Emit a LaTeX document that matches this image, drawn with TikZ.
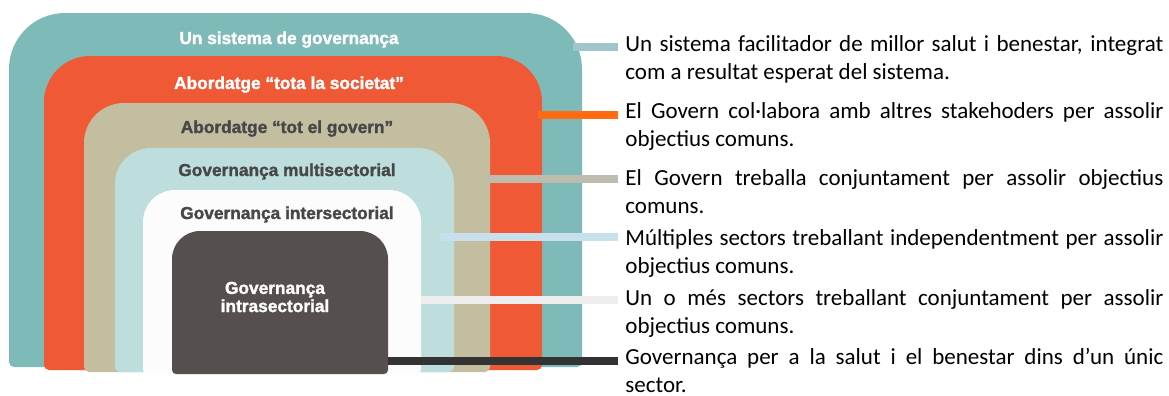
\documentclass[tikz,border=0pt]{standalone}
\usepackage{fontspec}
\setmainfont{Carlito}
\newfontfamily\bandfont[BoldFeatures={FakeBold=1.6}]{Liberation Sans}
\definecolor{cteal}{HTML}{7EBBB8}
\definecolor{cred}{HTML}{EF5936}
\definecolor{ctan}{HTML}{C4BEA0}
\definecolor{clblue}{HTML}{BEDDDD}
\definecolor{cwhite}{HTML}{FCFCFC}
\definecolor{cdark}{HTML}{55504D}
\definecolor{ctext}{HTML}{474747}
\definecolor{bteal}{HTML}{A0C6CC}
\definecolor{bred}{HTML}{FF6A13}
\definecolor{btan}{HTML}{BDBCAE}
\definecolor{blblue}{HTML}{C8E0EC}
\definecolor{bwhite}{HTML}{EEEEEE}
\definecolor{bdark}{HTML}{333333}
\tikzset{band label/.style={font=\bandfont\bfseries\fontsize{8.65}{8}\selectfont, align=center, inner sep=0pt}}
\tikzset{desc/.style={font=\fontsize{11.5}{14.25}\selectfont, text width=269pt, align=justify, anchor=base west, inner xsep=3.5pt, inner ysep=0pt}}
\tikzstyle{bar} = [line width=4pt]

\begin{document}
\begin{tikzpicture}[x=0.5pt, y=-0.5pt]

\useasboundingbox (0,0) rectangle (1169,396);

% nested bands
\fill[cteal] (9,200) [rounded corners=28pt] -- (9,13) -- (582,13) -- (582,200)
  [rounded corners=2.5pt] -- (582,367) -- (9,367) -- cycle;
\fill[cred] (44,200) [rounded corners=23pt] -- (44,56) -- (542,56) -- (542,200)
  [rounded corners=2.5pt] -- (542,370) -- (44,370) -- cycle;
\fill[ctan] (84,200) [rounded corners=20pt] -- (84,103) -- (490,103) -- (490,200)
  [rounded corners=2.5pt] -- (490,372) -- (84,372) -- cycle;
\fill[clblue] (115,250) [rounded corners=18pt] -- (115,148) -- (454,148) -- (454,250)
  [rounded corners=2.5pt] -- (454,372) -- (115,372) -- cycle;
\fill[cwhite] (143,280) [rounded corners=16pt] -- (143,190) -- (421,190) -- (421,280)
  [rounded corners=2.5pt] -- (421,375) -- (143,375) -- cycle;
\fill[cdark] (172,300) [rounded corners=14pt] -- (172,231) -- (388,231) -- (388,300)
  [rounded corners=2pt] -- (388,374) -- (172,374) -- cycle;

\node[band label, text=white, anchor=base] (lsis) at (289,44) {Un sistema de governança};
\node[band label, text=white, anchor=base] (lsoc) at (289,89) {Abordatge “tota la societat”};
\node[band label, text=ctext, anchor=base] (lgov) at (287,133) {Abordatge “tot el govern”};
\node[band label, text=ctext, anchor=base] (lmul) at (287,176) {Governança multisectorial};
\node[band label, text=ctext, anchor=base] (lint) at (287,219) {Governança intersectorial};
\node[band label, text=white] (lintra) at (275,297) {Governança\\intrasectorial};

% descriptions
\node[desc] (tsis) at (618,51) {Un sistema facilitador de millor salut i benestar, integrat\linebreak com a resultat esperat del sistema.};
\node[desc] (tsoc) at (618,118) {El Govern col·labora amb altres stakehoders per assolir\linebreak objectius comuns.};
\node[desc] (tgov) at (618,185) {El Govern treballa conjuntament per assolir objectius\linebreak comuns.};
\node[desc] (tmul) at (618,245) {Múltiples sectors treballant independentment per assolir\linebreak objectius comuns.};
\node[desc] (tint) at (618,305) {Un o més sectors treballant conjuntament per assolir\linebreak objectius comuns.};
\node[desc] (tintra) at (618,364) {Governança per a la salut i el benestar dins d’un únic\linebreak sector.};

% connectors
\coordinate (csis) at (573,47);
\coordinate (csoc) at (538,115);
\coordinate (cgov) at (486,178.5);
\coordinate (cmul) at (440,237);
\coordinate (cint) at (421,300);
\coordinate (cintra) at (388,361);
\draw[bar, bteal] (csis) -- (csis -| tsis.west);
\draw[bar, bred] (csoc) -- (csoc -| tsoc.west);
\draw[bar, btan] (cgov) -- (cgov -| tgov.west);
\draw[bar, blblue] (cmul) -- (cmul -| tmul.west);
\draw[bar, bwhite] (cint) -- (cint -| tint.west);
\draw[bar, bdark] (cintra) -- (cintra -| tintra.west);

\end{tikzpicture}
\end{document}
